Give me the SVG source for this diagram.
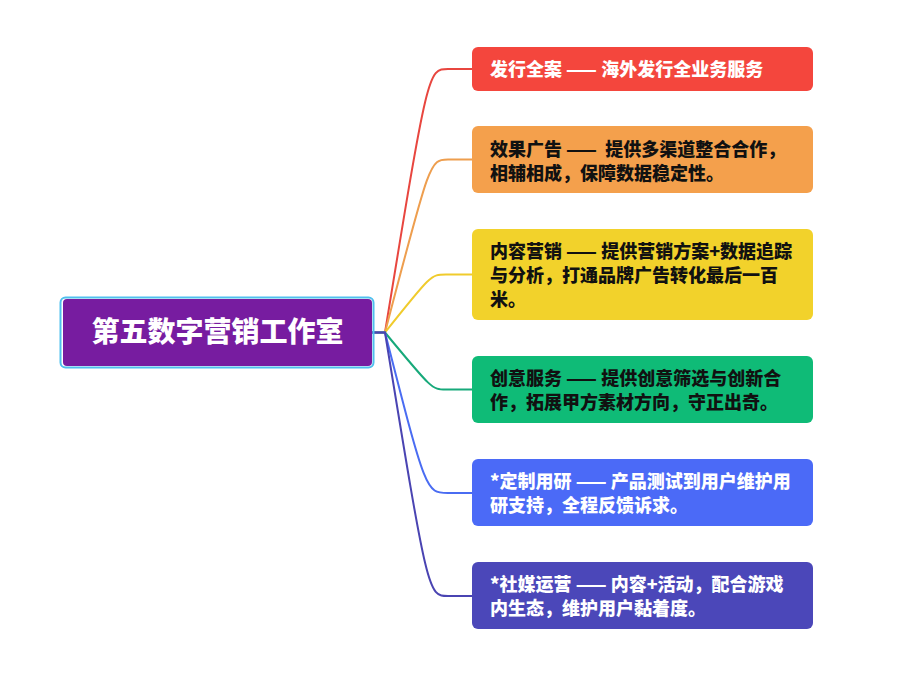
<svg xmlns="http://www.w3.org/2000/svg" width="908" height="673" viewBox="0 0 908 673">
<style>
.c{fill:none;stroke-width:2;stroke-linecap:round}
.t{font-family:"Noto Sans CJK SC","Noto Sans",sans-serif;font-weight:900;font-size:18px;white-space:pre}
.w{fill:#ffffff}
.d{fill:#111111}
</style>
<rect width="908" height="673" fill="#ffffff"/>
<g id="connectors">
<path class="c" stroke="#E8463F" d="M372,332.5 L385,332.5 C428,69 428,69 448,69 L472,69"/>
<path class="c" stroke="#EE9E4E" d="M372,332.5 L385,332.5 C430,159.5 430,159.5 448,159.5 L472,159.5"/>
<path class="c" stroke="#F0CB2C" d="M372,332.5 L385,332.5 C431,274.5 431,274.5 446,274.5 L472,274.5"/>
<path class="c" stroke="#17A97A" d="M372,332.5 L385,332.5 C432,389.5 432,389.5 446,389.5 L472,389.5"/>
<path class="c" stroke="#4A6CF2" d="M372,332.5 L385,332.5 C426,493 426,493 448,493 L472,493"/>
<path class="c" stroke="#4A44B2" d="M372,332.5 L385,332.5 C428,596 428,596 448,596 L472,596"/>
</g>
<g id="root">
<rect x="60.5" y="297.5" width="313" height="70" rx="5" fill="none" stroke="#4FC0EE" stroke-width="2"/>
<rect x="63" y="299" width="309" height="67" rx="4" fill="#771CA0"/>
<text x="217.5" y="342" text-anchor="middle" font-family="'Noto Sans CJK SC','Noto Sans',sans-serif" font-weight="900" font-size="28" fill="#ffffff">第五数字营销工作室</text>
</g>
<g id="n1">
<rect x="472" y="47" width="341" height="44" rx="6" fill="#F4463D"/>
<text class="t w" x="490" y="76">发行全案 —— 海外发行全业务服务</text>
</g>
<g id="n2">
<rect x="472" y="126" width="341" height="67" rx="6" fill="#F4A04C"/>
<text class="t d" x="490" y="156">效果广告 ——  提供多渠道整合合作，</text>
<text class="t d" x="490" y="180">相辅相成，保障数据稳定性。</text>
</g>
<g id="n3">
<rect x="472" y="229" width="341" height="91" rx="6" fill="#F2D22B"/>
<text class="t d" x="490" y="258">内容营销 —— 提供营销方案+数据追踪</text>
<text class="t d" x="490" y="282">与分析，打通品牌广告转化最后一百</text>
<text class="t d" x="490" y="306">米。</text>
</g>
<g id="n4">
<rect x="472" y="356" width="341" height="67" rx="6" fill="#0FBB77"/>
<text class="t d" x="490" y="385">创意服务 —— 提供创意筛选与创新合</text>
<text class="t d" x="490" y="409">作，拓展甲方素材方向，守正出奇。</text>
</g>
<g id="n5">
<rect x="472" y="459" width="341" height="67" rx="6" fill="#4B6AF7"/>
<text class="t w" x="490" y="488">*定制用研 —— 产品测试到用户维护用</text>
<text class="t w" x="490" y="512">研支持，全程反馈诉求。</text>
</g>
<g id="n6">
<rect x="472" y="562" width="341" height="67" rx="6" fill="#4B47B9"/>
<text class="t w" x="490" y="591">*社媒运营 —— 内容+活动，配合游戏</text>
<text class="t w" x="490" y="615">内生态，维护用户黏着度。</text>
</g>
</svg>
